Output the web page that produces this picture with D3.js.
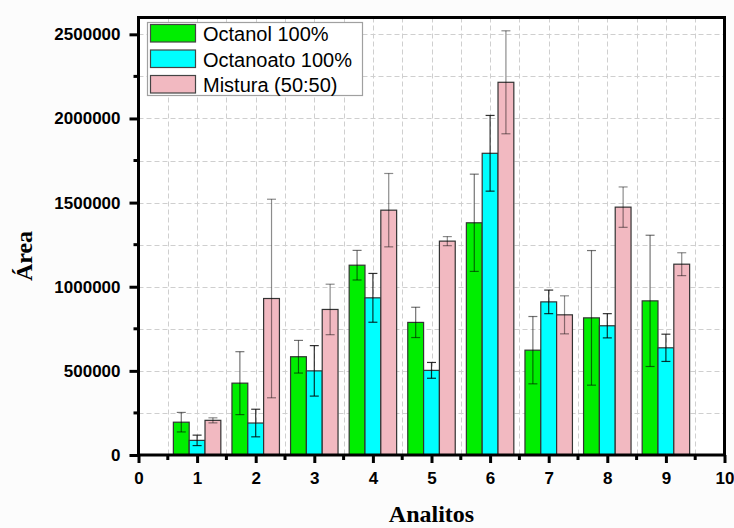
<!DOCTYPE html>
<html>
<head>
<meta charset="utf-8">
<script src="https://cdn.jsdelivr.net/npm/d3@7"></script>
<style>
  html, body { margin: 0; padding: 0; background: #fcfcfc; }
  svg { display: block; }
</style>
</head>
<body>
<svg id="chart" width="734" height="528"></svg>
<script>
// Analytes on the x axis (positions 1..9)
const analitos = [1, 2, 3, 4, 5, 6, 7, 8, 9];

// Peak areas and standard deviations per extraction solvent
const octanol        = [195000, 427000, 584000, 1128000, 788000, 1380000, 623000, 815000, 916000];
const octanolErr     = [58000, 187000, 97000, 88000, 90000, 289000, 200000, 400000, 390000];
const octanoato      = [87000, 190000, 500000, 934000, 503000, 1793000, 910000, 768000, 637000];
const octanoatoErr   = [31000, 82000, 150000, 145000, 47000, 225000, 70000, 72000, 81000];
const mistura        = [206000, 930000, 865000, 1455000, 1271000, 2215000, 833000, 1473000, 1134000];
const misturaErr     = [15000, 590000, 150000, 218000, 27000, 306000, 113000, 120000, 68000];

const seriesNames = ["Octanol 100%", "Octanoato 100%", "Mistura (50:50)"];
const xTicks = [0, 1, 2, 3, 4, 5, 6, 7, 8, 9, 10];
const yTicks = [0, 500000, 1000000, 1500000, 2000000, 2500000];

const series = [
  { name: seriesNames[0], values: octanol,   errs: octanolErr,   fill: "#00ee00", errColor: "rgba(0,0,0,0.55)", offset: -1 },
  { name: seriesNames[1], values: octanoato, errs: octanoatoErr, fill: "#00ffff", errColor: "rgba(0,0,0,0.8)",  offset: 0 },
  { name: seriesNames[2], values: mistura,   errs: misturaErr,   fill: "#f2b9c1", errColor: "rgba(0,0,0,0.45)", offset: 1 }
];

const svg = d3.select("#chart");
const plotL = 138.5, plotR = 724.5, plotT = 17.5, plotB = 455;

const x = d3.scaleLinear().domain([0, 10]).range([plotL, plotR]);
const y = d3.scaleLinear().domain([0, 2600000]).range([plotB, plotT]);

const barW = 0.27; // in x units

// plot background
svg.append("rect")
  .attr("x", plotL).attr("y", plotT)
  .attr("width", plotR - plotL).attr("height", plotB - plotT)
  .attr("fill", "#ffffff");

// dashed grid on major and minor positions
const gridX = d3.range(0.5, 10, 0.5);
const gridY = d3.range(250000, 2600000, 250000);
const grid = svg.append("g").attr("stroke", "#cfcfcf").attr("stroke-width", 1)
  .attr("stroke-dasharray", "5,3");
grid.selectAll("line.gx").data(gridX).join("line").attr("class", "gx")
  .attr("x1", d => Math.round(x(d)) + 0.5).attr("x2", d => Math.round(x(d)) + 0.5)
  .attr("y1", plotT).attr("y2", plotB);
grid.selectAll("line.gy").data(gridY).join("line").attr("class", "gy")
  .attr("y1", d => Math.round(y(d)) + 0.5).attr("y2", d => Math.round(y(d)) + 0.5)
  .attr("x1", plotL).attr("x2", plotR);

// bars
series.forEach(s => {
  const g = svg.append("g");
  g.selectAll("rect").data(s.values).join("rect")
    .attr("x", (d, i) => x(analitos[i] + s.offset * barW - barW / 2))
    .attr("width", x(barW) - x(0))
    .attr("y", d => y(d))
    .attr("height", d => y(0) - y(d))
    .attr("fill", s.fill)
    .attr("stroke", "#333")
    .attr("stroke-width", 1.2);
});

// error bars
series.forEach(s => {
  const g = svg.append("g").attr("stroke", s.errColor).attr("stroke-width", 1.2);
  s.values.forEach((v, i) => {
    const cx = x(analitos[i] + s.offset * barW);
    const e = s.errs[i];
    g.append("line").attr("x1", cx).attr("x2", cx).attr("y1", y(v + e)).attr("y2", y(v - e));
    g.append("line").attr("x1", cx - 4.5).attr("x2", cx + 4.5).attr("y1", y(v + e)).attr("y2", y(v + e));
    g.append("line").attr("x1", cx - 4.5).attr("x2", cx + 4.5).attr("y1", y(v - e)).attr("y2", y(v - e));
  });
});

// axes
const fontTick = "bold 17px 'Liberation Sans', Arial, sans-serif";
const xAxis = d3.axisBottom(x).tickValues(xTicks).tickSize(8).tickPadding(9).tickFormat(d3.format("d"));
const yAxis = d3.axisLeft(y).tickValues(yTicks).tickSize(9).tickPadding(9).tickFormat(d3.format("d"));

const gx = svg.append("g").attr("transform", `translate(0,${plotB})`).call(xAxis);
const gy = svg.append("g").attr("transform", `translate(${plotL},0)`).call(yAxis);
[gx, gy].forEach(g => {
  g.select(".domain").remove();
  g.selectAll(".tick line").attr("stroke", "#000").attr("stroke-width", 3);
  g.selectAll(".tick text").style("font", fontTick).attr("fill", "#000");
});

// minor ticks
svg.append("g").selectAll("line").data(d3.range(0.5, 10, 1)).join("line")
  .attr("x1", d => x(d)).attr("x2", d => x(d))
  .attr("y1", plotB).attr("y2", plotB + 5)
  .attr("stroke", "#000").attr("stroke-width", 3);
svg.append("g").selectAll("line").data(d3.range(250000, 2600000, 500000)).join("line")
  .attr("y1", d => y(d)).attr("y2", d => y(d))
  .attr("x1", plotL).attr("x2", plotL - 5)
  .attr("stroke", "#000").attr("stroke-width", 3);

// frame
svg.append("rect")
  .attr("x", plotL).attr("y", plotT)
  .attr("width", plotR - plotL).attr("height", plotB - plotT)
  .attr("fill", "none").attr("stroke", "#000").attr("stroke-width", 3);

// axis titles
svg.append("text")
  .attr("x", (plotL + plotR) / 2).attr("y", 522)
  .attr("text-anchor", "middle")
  .style("font", "bold 24px 'Liberation Serif', 'Times New Roman', serif")
  .text("Analitos");
svg.append("text")
  .attr("transform", "translate(32,256) rotate(-90)")
  .attr("text-anchor", "middle")
  .style("font", "bold 24px 'Liberation Serif', 'Times New Roman', serif")
  .text("Área");

// legend
const legend = svg.append("g");
legend.append("rect")
  .attr("x", 147.5).attr("y", 22.5).attr("width", 215).attr("height", 73)
  .attr("fill", "#ffffff").attr("stroke", "#a0a0a0").attr("stroke-width", 1.2);
series.forEach((s, i) => {
  const yy = 24.5 + i * 25.5;
  legend.append("rect")
    .attr("x", 150.5).attr("y", yy).attr("width", 45).attr("height", 17.5)
    .attr("fill", s.fill).attr("stroke", "#444").attr("stroke-width", 1.2);
  legend.append("text")
    .attr("x", 203).attr("y", yy + 16.5)
    .style("font", "20px 'Liberation Sans', Arial, sans-serif")
    .attr("fill", "#000")
    .text(s.name);
});
</script>
</body>
</html>
